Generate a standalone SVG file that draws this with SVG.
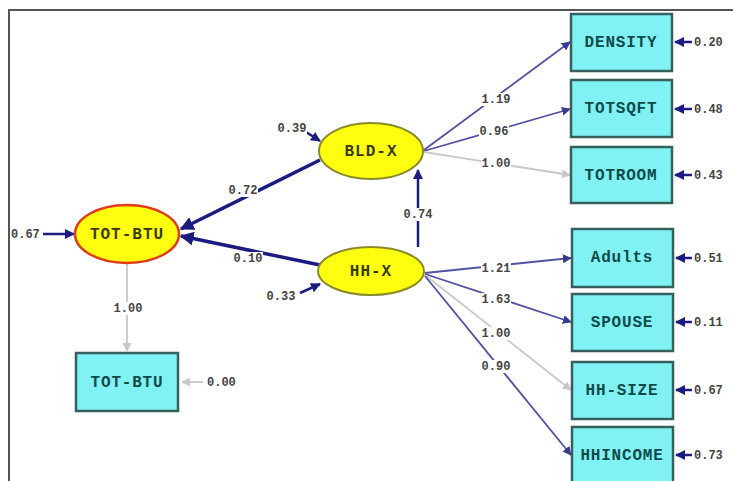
<svg xmlns="http://www.w3.org/2000/svg" width="733" height="481" viewBox="0 0 733 481">
<style>
.box{fill:#80f2f4;stroke:#35605e;stroke-width:2.5}
.ell{fill:#ffff10;stroke:#8a8a2a;stroke-width:2}
.red{stroke:#e03a1a;stroke-width:2.5}
.bt{font-family:"Liberation Mono",monospace;font-weight:bold;font-size:16px;letter-spacing:0.8px;fill:#0e4a4a;text-anchor:middle}
.et{font-family:"Liberation Mono",monospace;font-weight:bold;font-size:16px;letter-spacing:1px;fill:#3a3a10;text-anchor:middle}
.n{font-family:"Liberation Mono",monospace;font-weight:bold;font-size:12px;fill:#444;text-anchor:middle}
.nl{font-family:"Liberation Mono",monospace;font-weight:bold;font-size:12px;fill:#444}
.bg{fill:#fff}
.thick{stroke:#1c1c80;stroke-width:3.5;fill:none}
.navy{stroke:#1c1c80;stroke-width:2.5;fill:none}
.load{stroke:#5252a0;stroke-width:1.8;fill:none}
.gray{stroke:#c8c8c8;stroke-width:1.8;fill:none}
</style>
<defs>
<marker id="an" viewBox="0 0 10 10" refX="9" refY="5" markerWidth="4" markerHeight="4" orient="auto"><path d="M0,0L10,5L0,10z" fill="#1c1c80"/></marker>
<marker id="ab" viewBox="0 0 10 10" refX="9" refY="5" markerWidth="5" markerHeight="5" orient="auto"><path d="M0,0L10,5L0,10z" fill="#3a3a90"/></marker>
<marker id="ag" viewBox="0 0 10 10" refX="9" refY="5" markerWidth="5" markerHeight="5" orient="auto"><path d="M0,0L10,5L0,10z" fill="#c8c8c8"/></marker>
</defs>
<rect width="733" height="481" fill="#fff"/>
<path d="M9,481V10H733" stroke="#555" stroke-width="2" fill="none"/>
<g id="connectors">
<line class="thick" x1="320" y1="160" x2="181" y2="229" marker-end="url(#an)"/>
<line class="thick" x1="320" y1="265" x2="181" y2="236" marker-end="url(#an)"/>
<line class="navy" x1="418" y1="247" x2="418" y2="170" stroke-width="3" marker-end="url(#an)"/>
<line class="navy" x1="43" y1="234" x2="74" y2="234" marker-end="url(#an)"/>
<line class="navy" x1="306" y1="132" x2="320" y2="141" marker-end="url(#an)"/>
<line class="navy" x1="300" y1="293" x2="320" y2="284" marker-end="url(#an)"/>
<line class="gray" x1="127" y1="264" x2="127" y2="351" marker-end="url(#ag)"/>
<line class="gray" x1="203" y1="382" x2="182" y2="382" marker-end="url(#ag)"/>
<line class="load" x1="424" y1="150" x2="570" y2="42" marker-end="url(#ab)"/>
<line class="load" x1="424" y1="151" x2="570" y2="109" marker-end="url(#ab)"/>
<line class="gray" x1="424" y1="152" x2="570" y2="175" marker-end="url(#ag)"/>
<line class="load" x1="425" y1="273" x2="571" y2="258" marker-end="url(#ab)"/>
<line class="load" x1="425" y1="274" x2="571" y2="322" marker-end="url(#ab)"/>
<line class="gray" x1="425" y1="275" x2="571" y2="390" marker-end="url(#ag)"/>
<line class="load" x1="425" y1="276" x2="571" y2="455" marker-end="url(#ab)"/>
<line class="navy" x1="692" y1="42" x2="675" y2="42" marker-end="url(#an)"/>
<line class="navy" x1="692" y1="109" x2="675" y2="109" marker-end="url(#an)"/>
<line class="navy" x1="692" y1="175" x2="675" y2="175" marker-end="url(#an)"/>
<line class="navy" x1="692" y1="258" x2="676" y2="258" marker-end="url(#an)"/>
<line class="navy" x1="692" y1="322" x2="676" y2="322" marker-end="url(#an)"/>
<line class="navy" x1="692" y1="390" x2="676" y2="390" marker-end="url(#an)"/>
<line class="navy" x1="692" y1="455" x2="676" y2="455" marker-end="url(#an)"/>
</g>
<g id="labels">
<rect class="bg" x="277" y="122" width="30" height="13"/>
<rect class="bg" x="228" y="184" width="30" height="13"/>
<rect class="bg" x="233" y="252" width="30" height="13"/>
<rect class="bg" x="266" y="290" width="30" height="13"/>
<rect class="bg" x="403" y="208" width="30" height="13"/>
<rect class="bg" x="113" y="302" width="30" height="13"/>
<rect class="bg" x="481" y="93" width="30" height="13"/>
<rect class="bg" x="479" y="125" width="30" height="13"/>
<rect class="bg" x="481" y="157" width="30" height="13"/>
<rect class="bg" x="481" y="262" width="30" height="13"/>
<rect class="bg" x="481" y="293" width="30" height="13"/>
<rect class="bg" x="481" y="327" width="30" height="13"/>
<rect class="bg" x="481" y="360" width="30" height="13"/>
<text class="nl" x="11" y="238">0.67</text>
<text class="n" x="292" y="132">0.39</text>
<text class="n" x="243" y="194">0.72</text>
<text class="n" x="248" y="262">0.10</text>
<text class="n" x="281" y="300">0.33</text>
<text class="n" x="418" y="218">0.74</text>
<text class="n" x="128" y="312">1.00</text>
<text class="nl" x="207" y="386">0.00</text>
<text class="n" x="496" y="103">1.19</text>
<text class="n" x="494" y="135">0.96</text>
<text class="n" x="496" y="167">1.00</text>
<text class="n" x="496" y="272">1.21</text>
<text class="n" x="496" y="303">1.63</text>
<text class="n" x="496" y="337">1.00</text>
<text class="n" x="496" y="370">0.90</text>
<text class="nl" x="694" y="46">0.20</text>
<text class="nl" x="694" y="113">0.48</text>
<text class="nl" x="694" y="179">0.43</text>
<text class="nl" x="694" y="262">0.51</text>
<text class="nl" x="694" y="326">0.11</text>
<text class="nl" x="694" y="394">0.67</text>
<text class="nl" x="694" y="459">0.73</text>
</g>
<g id="TOT-BTU-latent"><ellipse class="ell red" cx="127" cy="234" rx="52" ry="29"/><text class="et" x="127" y="239">TOT-BTU</text></g>
<g id="BLD-X"><ellipse class="ell" cx="371" cy="151" rx="52" ry="28"/><text class="et" x="371" y="156">BLD-X</text></g>
<g id="HH-X"><ellipse class="ell" cx="371" cy="271" rx="53" ry="24"/><text class="et" x="371" y="276">HH-X</text></g>
<g id="TOT-BTU-obs"><rect class="box" x="76" y="353" width="102" height="58"/><text class="bt" x="127" y="387">TOT-BTU</text></g>
<g id="DENSITY"><rect class="box" x="571" y="14" width="101" height="57"/><text class="bt" x="621" y="47">DENSITY</text></g>
<g id="TOTSQFT"><rect class="box" x="571" y="80" width="101" height="57"/><text class="bt" x="621" y="113">TOTSQFT</text></g>
<g id="TOTROOM"><rect class="box" x="571" y="147" width="101" height="56"/><text class="bt" x="621" y="180">TOTROOM</text></g>
<g id="Adults"><rect class="box" x="572" y="229" width="101" height="58"/><text class="bt" x="622" y="262">Adults</text></g>
<g id="SPOUSE"><rect class="box" x="572" y="294" width="101" height="57"/><text class="bt" x="622" y="327">SPOUSE</text></g>
<g id="HH-SIZE"><rect class="box" x="572" y="362" width="101" height="57"/><text class="bt" x="622" y="395">HH-SIZE</text></g>
<g id="HHINCOME"><rect class="box" x="572" y="427" width="101" height="58"/><text class="bt" x="622" y="460">HHINCOME</text></g>
</svg>
